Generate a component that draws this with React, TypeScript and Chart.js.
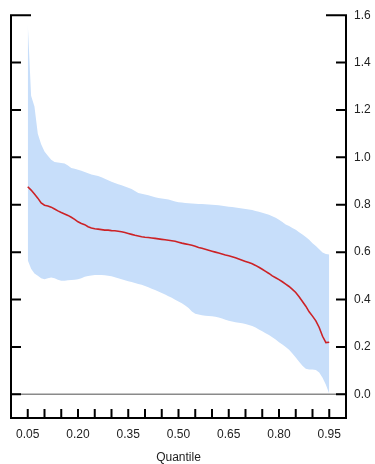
import React, { useEffect, useRef } from "react";
import { Chart, registerables } from "chart.js";

Chart.register(...registerables);

const quantiles: number[] = [
  0.05, 0.06, 0.07, 0.08, 0.09, 0.10, 0.11, 0.12, 0.13, 0.14,
  0.15, 0.16, 0.17, 0.18, 0.19, 0.20, 0.21, 0.22, 0.23, 0.24,
  0.25, 0.26, 0.27, 0.28, 0.29, 0.30, 0.31, 0.32, 0.33, 0.34,
  0.35, 0.36, 0.37, 0.38, 0.39, 0.40, 0.41, 0.42, 0.43, 0.44,
  0.45, 0.46, 0.47, 0.48, 0.49, 0.50, 0.51, 0.52, 0.53, 0.54,
  0.55, 0.56, 0.57, 0.58, 0.59, 0.60, 0.61, 0.62, 0.63, 0.64,
  0.65, 0.66, 0.67, 0.68, 0.69, 0.70, 0.71, 0.72, 0.73, 0.74,
  0.75, 0.76, 0.77, 0.78, 0.79, 0.80, 0.81, 0.82, 0.83, 0.84,
  0.85, 0.86, 0.87, 0.88, 0.89, 0.90, 0.91, 0.92, 0.93, 0.94,
  0.95,
];

const coefficient: number[] = [
  0.876, 0.862, 0.845, 0.828, 0.808, 0.798, 0.795, 0.790, 0.782, 0.774,
  0.767, 0.761, 0.755, 0.747, 0.738, 0.728, 0.721, 0.716, 0.707, 0.702,
  0.699, 0.697, 0.695, 0.693, 0.693, 0.691, 0.690, 0.688, 0.686, 0.683,
  0.679, 0.675, 0.671, 0.668, 0.665, 0.663, 0.662, 0.660, 0.658, 0.656,
  0.654, 0.652, 0.650, 0.648, 0.646, 0.642, 0.638, 0.635, 0.632, 0.629,
  0.625, 0.620, 0.616, 0.612, 0.608, 0.604, 0.600, 0.596, 0.592, 0.588,
  0.585, 0.581, 0.576, 0.571, 0.566, 0.561, 0.556, 0.551, 0.544, 0.536,
  0.528, 0.519, 0.510, 0.500, 0.492, 0.484, 0.475, 0.465, 0.455, 0.443,
  0.430, 0.412, 0.392, 0.372, 0.348, 0.330, 0.310, 0.282, 0.245, 0.218,
  0.220,
];

const upperBand: number[] = [
  1.565, 1.260, 1.215, 1.100, 1.055, 1.025, 1.007, 0.990, 0.980, 0.978,
  0.976, 0.974, 0.966, 0.955, 0.952, 0.948, 0.943, 0.938, 0.933, 0.928,
  0.925, 0.921, 0.916, 0.910, 0.903, 0.897, 0.892, 0.887, 0.882, 0.877,
  0.872, 0.866, 0.858, 0.850, 0.846, 0.843, 0.840, 0.836, 0.832, 0.829,
  0.826, 0.824, 0.822, 0.818, 0.814, 0.811, 0.809, 0.807, 0.806, 0.805,
  0.804, 0.803, 0.803, 0.802, 0.801, 0.800, 0.799, 0.798, 0.796, 0.794,
  0.792, 0.790, 0.788, 0.786, 0.784, 0.782, 0.780, 0.778, 0.774, 0.770,
  0.766, 0.762, 0.758, 0.752, 0.745, 0.737, 0.727, 0.717, 0.710, 0.702,
  0.694, 0.684, 0.674, 0.664, 0.652, 0.638, 0.626, 0.612, 0.598, 0.592,
  0.590,
];

const lowerBand: number[] = [
  0.566, 0.530, 0.510, 0.500, 0.490, 0.486, 0.490, 0.493, 0.490, 0.483,
  0.479, 0.479, 0.481, 0.482, 0.484, 0.486, 0.490, 0.496, 0.499, 0.501,
  0.503, 0.504, 0.504, 0.502, 0.500, 0.498, 0.494, 0.490, 0.486, 0.481,
  0.477, 0.474, 0.470, 0.466, 0.462, 0.457, 0.452, 0.446, 0.440, 0.434,
  0.428, 0.421, 0.414, 0.407, 0.399, 0.392, 0.384, 0.375, 0.364, 0.350,
  0.340, 0.337, 0.334, 0.332, 0.330, 0.329, 0.327, 0.324, 0.320, 0.315,
  0.310, 0.307, 0.304, 0.302, 0.300, 0.297, 0.293, 0.288, 0.282, 0.274,
  0.266, 0.258, 0.250, 0.241, 0.231, 0.220, 0.210, 0.200, 0.188, 0.172,
  0.155, 0.137, 0.120, 0.108, 0.105, 0.105, 0.103, 0.092, 0.070, 0.040,
  0.002,
];

const xLabelTicks: number[] = [0.05, 0.2, 0.35, 0.5, 0.65, 0.8, 0.95];
const xMinorTicks: number[] = [
  0.05, 0.1, 0.15, 0.2, 0.25, 0.3, 0.35, 0.4, 0.45, 0.5,
  0.55, 0.6, 0.65, 0.7, 0.75, 0.8, 0.85, 0.9, 0.95,
];
const yTicks: number[] = [0, 0.2, 0.4, 0.6, 0.8, 1.0, 1.2, 1.4, 1.6];
const xTitle = "Quantile";

const FONT = "'Liberation Sans', Arial, sans-serif";

const framePlugin = {
  id: "framePlugin",
  afterDatasetsDraw(chart: any) {
    const { ctx, chartArea } = chart;
    const xs = chart.scales.x;
    const ys = chart.scales.y;
    const { left, right, top, bottom } = chartArea;
    ctx.save();
    const y0 = ys.getPixelForValue(0);
    ctx.strokeStyle = "#8a8a8a";
    ctx.lineWidth = 1.5;
    ctx.beginPath();
    ctx.moveTo(left, y0);
    ctx.lineTo(right, y0);
    ctx.stroke();

    ctx.strokeStyle = "#000";
    ctx.lineWidth = 2;
    ctx.lineCap = "butt";
    ctx.beginPath();
    ctx.moveTo(left, top - 1);
    ctx.lineTo(left, bottom);
    ctx.moveTo(right, top - 1);
    ctx.lineTo(right, bottom);
    ctx.moveTo(left - 1, bottom);
    ctx.lineTo(right + 1, bottom);
    yTicks.forEach((v) => {
      const py = ys.getPixelForValue(v);
      const len = v === yTicks[yTicks.length - 1] ? 20 : 10;
      ctx.moveTo(left, py);
      ctx.lineTo(left + len, py);
      ctx.moveTo(right - len, py);
      ctx.lineTo(right, py);
    });
    xMinorTicks.forEach((v) => {
      const px = xs.getPixelForValue(v);
      ctx.moveTo(px, bottom);
      ctx.lineTo(px, bottom - 9);
    });
    ctx.stroke();
    ctx.restore();
  },
};

export default function App() {
  const canvasRef = useRef<HTMLCanvasElement | null>(null);

  useEffect(() => {
    document.body.style.margin = "0";
    const canvas = canvasRef.current;
    if (!canvas) return;
    const toPts = (vals: number[]) => quantiles.map((q, i) => ({ x: q, y: vals[i] }));
    const chart = new Chart(canvas, {
      type: "line",
      data: {
        datasets: [
          {
            label: "upper",
            data: toPts(upperBand),
            borderWidth: 0,
            borderColor: "rgba(0,0,0,0)",
            backgroundColor: "rgb(199,222,250)",
            pointRadius: 0,
            fill: 1,
            order: 2,
          },
          {
            label: "lower",
            data: toPts(lowerBand),
            borderWidth: 0,
            borderColor: "rgba(0,0,0,0)",
            pointRadius: 0,
            fill: false,
            order: 3,
          },
          {
            label: "coef",
            data: toPts(coefficient),
            borderColor: "rgb(204,34,38)",
            borderWidth: 1.6,
            pointRadius: 0,
            fill: false,
            order: 0,
          },
        ],
      },
      options: {
        animation: false,
        responsive: true,
        maintainAspectRatio: false,
        layout: { padding: { left: 11, top: 10, right: 0, bottom: 0 } },
        plugins: {
          legend: { display: false },
          tooltip: { enabled: false },
          filler: { drawTime: "beforeDatasetsDraw" },
        } as any,
        elements: { line: { tension: 0 } },
        scales: {
          x: {
            type: "linear",
            min: 0,
            max: 1,
            grid: { display: false, drawTicks: false },
            border: { display: false },
            afterBuildTicks: (s: any) => {
              s.ticks = xLabelTicks.map((v) => ({ value: v }));
            },
            afterFit: (s: any) => {
              s.height = 46;
            },
            ticks: {
              autoSkip: false,
              maxRotation: 0,
              padding: 9,
              color: "#222",
              font: { family: FONT, size: 12 },
              callback: (v: any) => Number(v).toFixed(2),
            },
            title: {
              display: true,
              text: xTitle,
              color: "#222",
              font: { family: FONT, size: 12 },
              padding: { top: 0, bottom: -1 },
            },
          },
          y: {
            type: "linear",
            position: "right",
            min: -0.1,
            max: 1.6,
            grid: { display: false, drawTicks: false },
            border: { display: false },
            afterBuildTicks: (s: any) => {
              s.ticks = yTicks.map((v) => ({ value: v }));
            },
            afterFit: (s: any) => {
              s.width = 29;
            },
            ticks: {
              padding: 8,
              color: "#222",
              font: { family: FONT, size: 12 },
              callback: (v: any) => Number(v).toFixed(1),
            },
          },
        },
      },
      plugins: [framePlugin],
    });
    return () => chart.destroy();
  }, []);

  return (
    <div style={{ width: 375, height: 464, position: "relative" }}>
      <canvas ref={canvasRef} />
    </div>
  );
}
